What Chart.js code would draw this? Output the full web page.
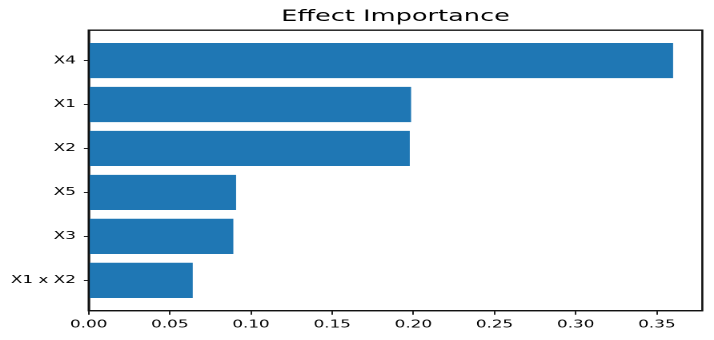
<!DOCTYPE html>
<html>
<head>
<meta charset="utf-8">
<script src="https://cdn.jsdelivr.net/npm/chart.js@4/dist/chart.umd.min.js"></script>
<style>
  html, body { margin: 0; padding: 0; background: #fff; overflow: hidden; }
  #wrap {
    position: absolute; left: 0; top: 0;
    width: 446px; height: 340px;
    transform: scaleX(1.6009); transform-origin: 0 0;
  }
</style>
</head>
<body>
<div id="wrap"><canvas id="chart"></canvas></div>
<script>
// categories, top to bottom
const categories = ['X4', 'X1', 'X2', 'X5', 'X3', 'X1 x X2'];
const importance = [0.360, 0.1986, 0.1978, 0.0908, 0.0891, 0.0641];
const xTicks = [0.00, 0.05, 0.10, 0.15, 0.20, 0.25, 0.30, 0.35];
const chartTitle = 'Effect Importance';

const n = categories.length;
// bottom category sits at 0, like matplotlib barh
const points = categories.map(function (c, i) {
    return { x: importance[i], y: n - 1 - i };
});

// matplotlib style box around the axes
const frame = {
    id: 'axesFrame',
    afterDraw: function (chart) {
        const a = chart.chartArea;
        const ctx = chart.ctx;
        ctx.save();
        ctx.strokeStyle = '#111';
        ctx.lineWidth = 1.3;
        ctx.beginPath();
        ctx.moveTo(a.left, a.top);
        ctx.lineTo(a.right, a.top);
        ctx.lineTo(a.right, a.bottom);
        ctx.lineTo(a.left, a.bottom);
        ctx.closePath();
        ctx.stroke();
        ctx.restore();
    }
};

new Chart(document.getElementById('chart'), {
    type: 'bar',
    data: {
        datasets: [{
            data: points,
            backgroundColor: '#1f77b4',
            borderWidth: 0,
            barPercentage: 0.8,
            categoryPercentage: 1.0
        }]
    },
    options: {
        indexAxis: 'y',
        responsive: true,
        maintainAspectRatio: false,
        animation: false,
        devicePixelRatio: 2,
        layout: { padding: { left: 0, right: 7.3, top: 0, bottom: 0 } },
        plugins: {
            legend: { display: false },
            tooltip: { enabled: false },
            title: {
                display: true,
                text: chartTitle,
                fullSize: false,
                color: '#000',
                font: { family: 'DejaVu Sans', size: 16, weight: 'normal' },
                padding: { top: 7, bottom: 4 }
            }
        },
        scales: {
            x: {
                type: 'linear',
                min: 0,
                max: 0.378,
                afterBuildTicks: function (scale) {
                    scale.ticks = xTicks.map(function (v) { return { value: v }; });
                },
                afterFit: function (scale) { scale.height = 29.3; },
                ticks: {
                    color: '#000',
                    font: { family: 'DejaVu Sans', size: 10.5 },
                    padding: 4,
                    maxRotation: 0,
                    callback: function (v) { return Number(v).toFixed(2); }
                },
                grid: { drawOnChartArea: false, drawTicks: true, tickLength: 4, color: '#222', offset: false },
                border: { display: true, color: '#111', width: 1.3 }
            },
            y: {
                type: 'linear',
                offset: false,
                min: -0.69,
                max: 5.69,
                afterBuildTicks: function (scale) {
                    scale.ticks = categories.map(function (c, i) { return { value: i }; });
                },
                afterFit: function (scale) { scale.width = 55.4; },
                ticks: {
                    color: '#000',
                    font: { family: 'DejaVu Sans', size: 10.5 },
                    padding: 5,
                    callback: function (v) { return categories[n - 1 - v]; }
                },
                grid: { drawOnChartArea: false, drawTicks: true, tickLength: 3, color: '#222', offset: false },
                border: { display: true, color: '#111', width: 1.3 }
            }
        }
    },
    plugins: [frame]
});
</script>
</body>
</html>
